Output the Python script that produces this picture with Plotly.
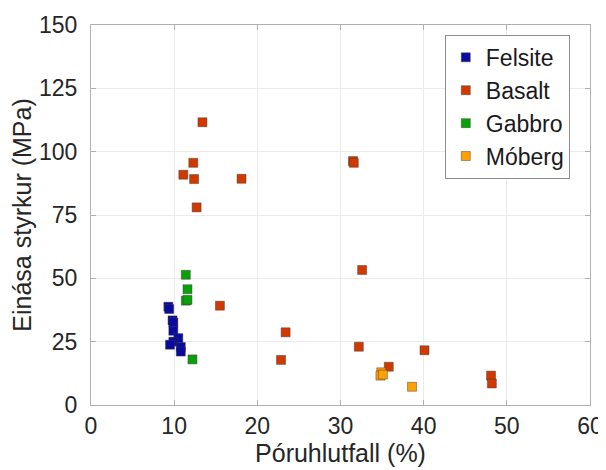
import plotly.graph_objects as go

# Data (porosity %, UCS MPa)
felsite_x = [9.3, 9.4, 9.8, 9.9, 9.9, 10.5, 9.9, 9.5, 10.8, 10.8]
felsite_y = [38.8, 37.9, 33.4, 32.6, 29.3, 26.4, 25.0, 23.8, 22.9, 21.1]

basalt_x = [13.4, 12.3, 11.1, 12.4, 18.1, 12.7, 31.5, 31.6, 32.6, 15.5, 23.4, 22.85, 32.2, 40.1, 35.8, 48.1, 48.2]
basalt_y = [111.6, 95.6, 90.9, 89.2, 89.3, 78.0, 96.3, 95.6, 53.3, 39.2, 28.7, 17.8, 23.0, 21.6, 15.1, 11.6, 8.5]

gabbro_x = [11.4, 11.6, 11.4, 11.6, 12.2]
gabbro_y = [51.4, 45.7, 41.2, 41.5, 18.0]

moberg_x = [34.9, 34.8, 35.1, 38.6]
moberg_y = [12.9, 11.6, 12.0, 7.2]

x_ticks = [0, 10, 20, 30, 40, 50, 60]
y_ticks = [0, 25, 50, 75, 100, 125, 150]

series = [
    ("Felsite", felsite_x, felsite_y, "#0a0a9e"),
    ("Basalt", basalt_x, basalt_y, "#d03a00"),
    ("Gabbro", gabbro_x, gabbro_y, "#0aa00a"),
    ("Móberg", moberg_x, moberg_y, "#ff9f00"),
]

fig = go.Figure()
for name, xs, ys, col in series:
    fig.add_trace(go.Scatter(
        x=xs, y=ys, mode="markers", name=name,
        marker=dict(symbol="square", size=9, color=col,
                    line=dict(width=1, color="rgba(60,60,60,0.45)")),
    ))

text_col = "#262626"
axis_col = "#b0b0b0"
font_fam = "Liberation Sans, Arial, sans-serif"

# page body has an 8px margin, so the figure is 8px smaller than the window
fig.update_layout(
    template="none",
    width=598, height=462,
    margin=dict(l=83, r=16, t=17, b=65, autoexpand=False),
    paper_bgcolor="white", plot_bgcolor="white",
    font=dict(family=font_fam, size=23, color=text_col),
    legend=dict(
        x=0.709, y=0.974, xanchor="left", yanchor="top",
        bgcolor="white", bordercolor="#8c8c8c", borderwidth=1,
        font=dict(size=23, color="#1a1a1a"),
        tracegroupgap=0,
    ),
    showlegend=True,
)
fig.update_xaxes(
    automargin=False,
    range=[0, 60], tickvals=x_ticks, ticktext=[str(v) for v in x_ticks],
    showgrid=True, gridcolor="#ebebeb", gridwidth=1, zeroline=False,
    showline=True, linecolor=axis_col, linewidth=1, mirror="ticks",
    ticks="inside", ticklen=5, tickcolor=axis_col,
    title=dict(text="Póruhlutfall (%)", font=dict(size=25, color=text_col), standoff=4),
    tickfont=dict(size=23, color=text_col),
)
fig.update_yaxes(
    automargin=False,
    range=[0, 150], tickvals=y_ticks, ticktext=[str(v) for v in y_ticks],
    showgrid=True, gridcolor="#ebebeb", gridwidth=1, zeroline=False,
    showline=True, linecolor=axis_col, linewidth=1, mirror="ticks",
    ticks="inside", ticklen=5, tickcolor=axis_col, ticklabelstandoff=8,
    title=dict(text="Einása styrkur (MPa)", font=dict(size=25, color=text_col), standoff=4),
    tickfont=dict(size=23, color=text_col),
)

fig.write_html("out.html")
